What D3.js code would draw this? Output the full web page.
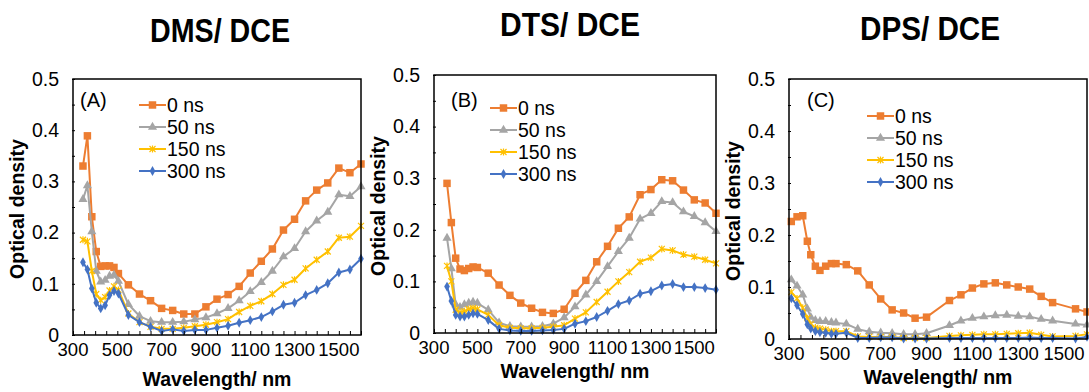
<!DOCTYPE html>
<html>
<head>
<meta charset="utf-8">
<script src="https://cdnjs.cloudflare.com/ajax/libs/d3/7.8.5/d3.min.js"></script>
<style>
  body { margin: 0; background: #fff; }
  text { font-family: "Liberation Sans", Arial, sans-serif; fill: #000; }
</style>
</head>
<body>
<svg id="canvas" width="1089" height="392"></svg>
<script>
// ---- data ----
const panelTitles = ["DMS/ DCE", "DTS/ DCE", "DPS/ DCE"]
const panelTags = ["(A)", "(B)", "(C)"]
const seriesNames = ["0 ns", "50 ns", "150 ns", "300 ns"]
const xTickLabels = [300, 500, 700, 900, 1100, 1300, 1500]
const yTickLabels = [0, 0.1, 0.2, 0.3, 0.4, 0.5]

// wavelengths (nm)
const wlA = [345, 365, 385, 405, 425, 445, 465, 485, 505, 550, 600, 650, 700, 750, 800, 850, 900, 950, 1000, 1050, 1100, 1150, 1200, 1250, 1300, 1350, 1400, 1450, 1500, 1550, 1600]
const wlB = [360, 380, 400, 420, 440, 460, 480, 500, 550, 600, 650, 700, 750, 800, 850, 900, 950, 1000, 1050, 1100, 1150, 1200, 1250, 1300, 1350, 1400, 1450, 1500, 1550, 1600]
const wlC = [310, 335, 360, 380, 395, 415, 435, 460, 485, 505, 550, 600, 650, 700, 750, 800, 850, 900, 1000, 1050, 1100, 1150, 1200, 1250, 1300, 1350, 1400, 1450, 1550, 1600]

// optical density, DMS/ DCE
const dms0 = [0.330, 0.389, 0.231, 0.163, 0.134, 0.135, 0.135, 0.132, 0.120, 0.098, 0.080, 0.067, 0.052, 0.048, 0.041, 0.041, 0.055, 0.070, 0.079, 0.095, 0.121, 0.144, 0.168, 0.205, 0.226, 0.262, 0.283, 0.297, 0.326, 0.317, 0.334]
const dms50 = [0.265, 0.292, 0.202, 0.125, 0.104, 0.107, 0.115, 0.117, 0.105, 0.060, 0.037, 0.027, 0.025, 0.025, 0.026, 0.030, 0.034, 0.042, 0.052, 0.067, 0.085, 0.103, 0.125, 0.153, 0.169, 0.202, 0.223, 0.240, 0.274, 0.271, 0.290]
const dms150 = [0.186, 0.183, 0.125, 0.080, 0.068, 0.074, 0.087, 0.095, 0.088, 0.042, 0.025, 0.016, 0.012, 0.012, 0.014, 0.017, 0.020, 0.025, 0.031, 0.045, 0.057, 0.066, 0.080, 0.098, 0.108, 0.130, 0.147, 0.163, 0.190, 0.192, 0.213]
const dms300 = [0.142, 0.128, 0.091, 0.063, 0.052, 0.058, 0.078, 0.086, 0.081, 0.039, 0.025, 0.016, 0.008, 0.011, 0.008, 0.010, 0.010, 0.014, 0.018, 0.024, 0.029, 0.035, 0.046, 0.059, 0.063, 0.078, 0.088, 0.101, 0.122, 0.128, 0.149]

// optical density, DTS/ DCE
const dts0 = [0.290, 0.214, 0.145, 0.124, 0.121, 0.125, 0.128, 0.127, 0.116, 0.093, 0.073, 0.058, 0.048, 0.040, 0.038, 0.046, 0.077, 0.102, 0.138, 0.168, 0.203, 0.225, 0.268, 0.278, 0.297, 0.295, 0.277, 0.258, 0.252, 0.232]
const dts50 = [0.184, 0.125, 0.055, 0.050, 0.055, 0.058, 0.060, 0.058, 0.045, 0.020, 0.013, 0.012, 0.012, 0.013, 0.018, 0.030, 0.051, 0.074, 0.100, 0.129, 0.158, 0.184, 0.221, 0.232, 0.255, 0.253, 0.235, 0.226, 0.214, 0.197]
const dts150 = [0.130, 0.100, 0.045, 0.040, 0.042, 0.046, 0.048, 0.046, 0.035, 0.015, 0.010, 0.009, 0.009, 0.010, 0.012, 0.015, 0.028, 0.040, 0.060, 0.080, 0.100, 0.118, 0.138, 0.146, 0.163, 0.160, 0.152, 0.148, 0.142, 0.135]
const dts300 = [0.090, 0.062, 0.035, 0.032, 0.032, 0.035, 0.038, 0.037, 0.025, 0.008, 0.005, 0.004, 0.004, 0.005, 0.006, 0.008, 0.018, 0.023, 0.031, 0.043, 0.056, 0.063, 0.076, 0.081, 0.092, 0.095, 0.089, 0.089, 0.087, 0.084]

// optical density, DPS/ DCE
const dps0 = [0.226, 0.235, 0.237, 0.188, 0.162, 0.140, 0.132, 0.140, 0.145, 0.145, 0.143, 0.131, 0.104, 0.077, 0.056, 0.050, 0.040, 0.042, 0.074, 0.085, 0.098, 0.106, 0.108, 0.104, 0.100, 0.096, 0.082, 0.070, 0.058, 0.052]
const dps50 = [0.114, 0.102, 0.085, 0.058, 0.042, 0.036, 0.034, 0.034, 0.032, 0.031, 0.029, 0.019, 0.014, 0.012, 0.011, 0.009, 0.009, 0.011, 0.026, 0.035, 0.040, 0.043, 0.045, 0.046, 0.044, 0.043, 0.038, 0.035, 0.029, 0.027]
const dps150 = [0.090, 0.078, 0.060, 0.040, 0.028, 0.022, 0.020, 0.018, 0.015, 0.015, 0.015, 0.005, 0.004, 0.004, 0.004, 0.002, 0.002, 0.002, 0.006, 0.007, 0.008, 0.009, 0.009, 0.010, 0.011, 0.012, 0.008, 0.005, 0.006, 0.009]
const dps300 = [0.078, 0.065, 0.048, 0.028, 0.020, 0.015, 0.013, 0.012, 0.010, 0.010, 0.012, 0.002, 0.002, 0.003, 0.003, 0.001, 0.001, 0.001, 0.002, 0.002, 0.002, 0.002, 0.002, 0.002, 0.002, 0.003, 0.002, 0.002, 0.001, 0.004]

// ---- styles / layout ----
const colors = ["#ED7D31", "#A5A5A5", "#FFC000", "#4472C4"]
const markers = ["square", "triangle", "star", "diamond"]

const panels = [
        {wl: wlA, series: [dms0, dms50, dms150, dms300], left: 73, right: 361, top: 79, bottom: 335,
         titleX: 220, titleY: 42, xTitleY: 386, legX: 139, legY: 105, tagX: 80},
        {wl: wlB, series: [dts0, dts50, dts150, dts300], left: 434, right: 716, top: 75, bottom: 333,
         titleX: 570, titleY: 36, xTitleY: 378, legX: 490, legY: 108, tagX: 451},
        {wl: wlC, series: [dps0, dps50, dps150, dps300], left: 789, right: 1087, top: 79, bottom: 339,
         titleX: 930, titleY: 40, xTitleY: 384, legX: 867, legY: 116, tagX: 807}
]

const svg = d3.select("#canvas")

function markerPath(type){
        if (type == "square") return d3.symbol().type(d3.symbolSquare).size(56)()
        if (type == "triangle") return d3.symbol().type(d3.symbolTriangle).size(36)()
        if (type == "diamond") return d3.symbol().type(d3.symbolDiamond).size(28)()
        // excel style star: x plus a vertical stroke
        return "M-3,-3L3,3M-3,3L3,-3M0,-3.5L0,3.5"
}

function drawMarker(g, type, color, x, y){
        var p = g.append("path")
                .attr("d", markerPath(type))
                .attr("transform", "translate(" + x + "," + y + ")")
        if (type == "star") {
                p.attr("fill", "none").attr("stroke", color).attr("stroke-width", 1.2)
        } else {
                p.attr("fill", color)
        }
}

function drawPanel(cfg, i){
        var x = d3.scaleLinear().domain([300, 1600]).range([cfg.left, cfg.right])
        var y = d3.scaleLinear().domain([0, 0.5]).range([cfg.bottom, cfg.top])
        var g = svg.append("g").attr("id", "panel" + i)

        //title (tall, narrow bold face in the original)
        g.append("text")
        .attr("transform", "translate(" + cfg.titleX + "," + cfg.titleY + ") scale(1,1.12)")
        .attr("text-anchor", "middle")
        .attr("textLength", 140)
        .attr("lengthAdjust", "spacingAndGlyphs")
        .style("font-size", "29px")
        .style("font-weight", "bold")
        .text(panelTitles[i])

        //series lines + markers
        cfg.series.forEach(function(vals, s){
                var pts = cfg.wl.map(function(w, k){ return [x(w), y(vals[k])] })
                g.append("path")
                .attr("d", d3.line()(pts))
                .attr("fill", "none")
                .attr("stroke", colors[s])
                .attr("stroke-width", 2)
                .attr("stroke-linejoin", "round")
                pts.forEach(function(p){ drawMarker(g, markers[s], colors[s], p[0], p[1]) })
        })

        //frame
        g.append("rect")
        .attr("x", cfg.left).attr("y", cfg.top)
        .attr("width", cfg.right - cfg.left).attr("height", cfg.bottom - cfg.top)
        .attr("fill", "none").attr("stroke", "#000").attr("stroke-width", 1.5)

        //x axis: ticks every 50 nm, labels every 200 nm
        var xAxis = d3.axisBottom(x).tickValues(d3.range(300, 1601, 50)).tickSizeInner(-4).tickSizeOuter(0).tickFormat("")
        var xa = g.append("g").attr("transform", "translate(0," + cfg.bottom + ")").call(xAxis)
        xa.select(".domain").remove()
        xa.selectAll("line").attr("stroke", "#000")
        xTickLabels.forEach(function(v){
                g.append("text")
                .attr("x", x(v))
                .attr("y", cfg.bottom + 21)
                .attr("text-anchor", "middle")
                .style("font-size", "18.5px")
                .text(v)
        })

        //y axis: ticks every 0.05, labels every 0.1
        var yAxis = d3.axisLeft(y).tickValues(d3.range(0, 0.501, 0.05)).tickSizeInner(3).tickSizeOuter(0).tickFormat("")
        var ya = g.append("g").attr("transform", "translate(" + (cfg.left + 2) + ",0)").call(yAxis)
        ya.select(".domain").remove()
        ya.selectAll("line").attr("stroke", "#000")
        yTickLabels.forEach(function(v){
                g.append("text")
                .attr("x", cfg.left - 14)
                .attr("y", y(v))
                .attr("dy", "0.35em")
                .attr("text-anchor", "end")
                .style("font-size", "19.5px")
                .text(v)
        })

        //axis titles
        g.append("text")
        .attr("transform", "translate(" + (cfg.left - 49) + "," + ((cfg.top + cfg.bottom) / 2 + 2) + ") rotate(-90)")
        .attr("text-anchor", "middle")
        .style("font-size", "19.5px")
        .style("font-weight", "bold")
        .text("Optical density")

        g.append("text")
        .attr("x", (cfg.left + cfg.right) / 2)
        .attr("y", cfg.xTitleY)
        .attr("text-anchor", "middle")
        .style("font-size", "19.5px")
        .style("font-weight", "bold")
        .text("Wavelength/ nm")

        //panel tag
        g.append("text")
        .attr("x", cfg.tagX)
        .attr("y", 107)
        .style("font-size", "20px")
        .text(panelTags[i])

        //legend
        seriesNames.forEach(function(name, s){
                var ly = cfg.legY + s * 22
                g.append("line")
                .attr("x1", cfg.legX).attr("x2", cfg.legX + 27)
                .attr("y1", ly).attr("y2", ly)
                .attr("stroke", colors[s]).attr("stroke-width", 2)
                drawMarker(g, markers[s], colors[s], cfg.legX + 13.5, ly)
                g.append("text")
                .attr("x", cfg.legX + 28)
                .attr("y", ly)
                .attr("dy", "0.35em")
                .style("font-size", "19.5px")
                .text(name)
        })
}

panels.forEach(drawPanel)
</script>
</body>
</html>
